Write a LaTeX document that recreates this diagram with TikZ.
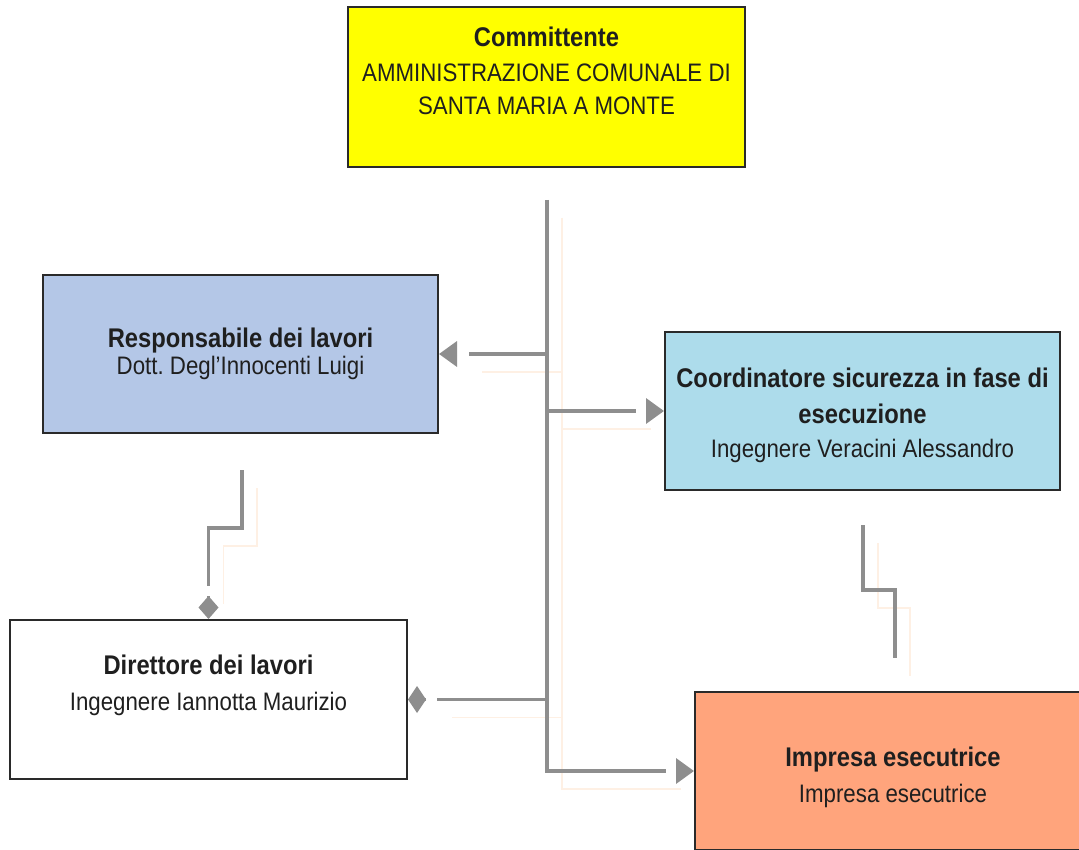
\documentclass[tikz,border=0pt]{standalone}
\usepackage{fontspec}
\setmainfont{Liberation Sans}[FakeStretch=0.88]
\usetikzlibrary{arrows.meta,calc}
\frenchspacing
\definecolor{ylw}{HTML}{FFFF00}
\definecolor{respblue}{HTML}{B4C7E7}
\definecolor{coordblue}{HTML}{ADDCEB}
\definecolor{salmonfill}{HTML}{FFA47C}
\definecolor{conngray}{HTML}{8E8E8E}
\definecolor{boxedge}{HTML}{2A2A2A}
\definecolor{ghost}{HTML}{FEF0E4}
\tikzset{
  box/.style={draw=boxedge, line width=2pt, inner sep=0pt},
  ttl/.style={anchor=base, inner sep=0pt, font=\fontsize{27}{31}\selectfont\bfseries, text=black!88},
  sub/.style={anchor=base, inner sep=0pt, font=\fontsize{25.3}{29}\selectfont, text=black!88},
  conn/.style={draw=conngray, line width=3.5pt},
  tri/.style={draw=conngray, line width=3.5pt, -{Triangle[length=18pt,width=25pt]}},
  diah/.style={draw=conngray, line width=3.5pt, -{Diamond[length=18pt,width=27pt]}},
  diav/.style={draw=conngray, line width=3.5pt, -{Diamond[length=23pt,width=20pt]}},
  ghostln/.style={draw=ghost, line width=1.5pt},
}
\begin{document}
\begin{tikzpicture}[x=1pt,y=-1pt]
\useasboundingbox (0,0) rectangle (1079,850);
\clip (0,0) rectangle (1079,850);
\fill[white] (0,0) rectangle (1079,850);

% boxes
\node[box, fill=ylw, minimum width=397pt, minimum height=160pt] (comm) at (546.5,87) {};
\node[box, fill=respblue, minimum width=395pt, minimum height=158pt] (resp) at (240.5,354) {};
\node[box, fill=coordblue, minimum width=395pt, minimum height=158pt] (coord) at (862.5,411) {};
\node[box, fill=white, minimum width=397pt, minimum height=159pt] (dir) at (208.5,699.5) {};
\node[box, fill=salmonfill, minimum width=396pt, minimum height=158pt] (imp) at (893,771) {};

% texts
\node[ttl] (commT) at (546.5,46.7) {Committente};
\node[sub] (commS1) at (546.5,81.7) {AMMINISTRAZIONE COMUNALE DI};
\node[sub] (commS2) at (546.5,115) {SANTA MARIA A MONTE};

\node[ttl] (respT) at (240.5,347) {Responsabile dei lavori};
\node[sub] (respS) at (240.5,374) {Dott. Degl'Innocenti Luigi};

\node[ttl] (coordT1) at (862.5,387) {Coordinatore sicurezza in fase di};
\node[ttl] (coordT2) at (862.5,423) {esecuzione};
\node[sub] (coordS) at (862.5,457) {Ingegnere Veracini Alessandro};

\node[ttl] (dirT) at (208.5,674) {Direttore dei lavori};
\node[sub] (dirS) at (208.5,710) {Ingegnere Iannotta Maurizio};

\node[ttl] (impT) at (893,766) {Impresa esecutrice};
\node[sub] (impS) at (893,802) {Impresa esecutrice};

% connector coordinates
\coordinate (ttop) at (547,200);
\coordinate (rzA) at (242,470);
\coordinate (rzB) at (242,528);
\coordinate (czA) at (863,525);
\coordinate (czB) at (863,590);
\coordinate (czE) at (895,658);

% faint ghost copies
\begin{scope}[transform canvas={xshift=15pt,yshift=-18pt}]
  \draw[ghostln] (ttop) |- ([xshift=-28pt]imp.west);
  \draw[ghostln] (ttop |- resp.east) -- ([xshift=28pt]resp.east);
  \draw[ghostln] (ttop |- coord.west) -- ([xshift=-28pt]coord.west);
  \draw[ghostln] (ttop |- dir.east) -- ([xshift=29pt]dir.east);
  \draw[ghostln] (rzA) -- (rzB) -| ([yshift=33pt]dir.north);
  \draw[ghostln] (czA) -- (czB) -| (czE);
\end{scope}

% connectors: lines
\draw[conn] (ttop) |- ([xshift=-28pt]imp.west);
\draw[conn] (ttop |- resp.east) -- ([xshift=30pt]resp.east);
\draw[conn] (ttop |- coord.west) -- ([xshift=-28pt]coord.west);
\draw[conn] (ttop |- dir.east) -- ([xshift=29pt]dir.east);
\draw[conn] (rzA) -- (rzB) -| ([yshift=33pt]dir.north);
\draw[conn] (czA) -- (czB) -| (czE);
% connectors: detached heads
\draw[tri] ([xshift=-18pt]imp.west) -- (imp.west);
\draw[tri] ([xshift=18pt]resp.east) -- (resp.east);
\draw[tri] ([xshift=-18pt]coord.west) -- (coord.west);
\draw[diah] ([xshift=18pt]dir.east) -- (dir.east);
\draw[diav] ([yshift=23pt]dir.north) -- (dir.north);
\end{tikzpicture}
\end{document}
